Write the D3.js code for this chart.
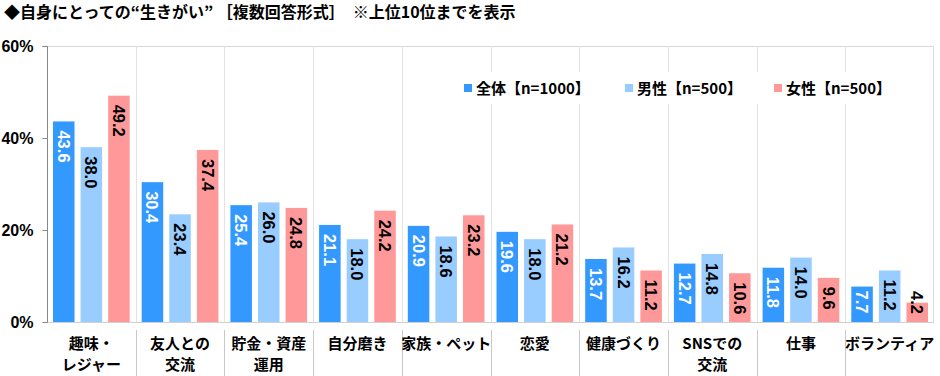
<!DOCTYPE html>
<html><head><meta charset="utf-8">
<script src="https://cdn.jsdelivr.net/npm/d3@7/dist/d3.min.js"></script>
<style>
body{margin:0;background:#fff;}
svg{display:block;}
</style></head>
<body><svg id="c" width="940" height="376"></svg>
<script>
const categories = [["趣味・","レジャー"],["友人との","交流"],["貯金・資産","運用"],["自分磨き"],["家族・ペット"],["恋愛"],["健康づくり"],["SNSでの","交流"],["仕事"],["ボランティア"]];
const seriesNames = ["全体【n=1000】","男性【n=500】","女性【n=500】"];
const totalVals = [43.6,30.4,25.4,21.1,20.9,19.6,13.7,12.7,11.8,7.7];
const maleVals = [38.0,23.4,26.0,18.0,18.6,18.0,16.2,14.8,14.0,11.2];
const femaleVals = [49.2,37.4,24.8,24.2,23.2,21.2,11.2,10.6,9.6,4.2];
const yTicks = [0,20,40,60];
const titleText = "◆自身にとっての“生きがい” ［複数回答形式］　※上位10位までを表示";

const colors = ["#3399FF","#99CCFF","#FF9999"];
const labelColors = ["#fff","#000","#000"];
const values = [totalVals, maleVals, femaleVals];

const svg = d3.select("#c");
const L = 47, R = 934, T = 46, B = 322;
const catIdx = categories.map((d,i)=>i);
const x = d3.scaleBand().domain(catIdx).range([L,R]).paddingInner(0).paddingOuter(0);
const bw = x.bandwidth();
const x1 = d3.scaleBand().domain([0,1,2]).range([6, bw-6]).paddingInner(0.22).paddingOuter(0);
const y = d3.scaleLinear().domain([0,60]).range([B,T]);

svg.append("text").attr("x",4).attr("y",18)
  .attr("font-family","'Noto Sans CJK JP'").attr("font-weight","bold").attr("font-size",16)
  .attr("fill","#000").text(titleText);

const g = svg.append("g");
g.append("line").attr("x1",L).attr("x2",R).attr("y1",T+0.5).attr("y2",T+0.5).attr("stroke","#d9d9d9");
g.append("line").attr("x1",R-0.5).attr("x2",R-0.5).attr("y1",T).attr("y2",B).attr("stroke","#d9d9d9");
g.selectAll(".vg").data(catIdx.slice(1)).enter().append("line")
  .attr("x1",d=>Math.round(x(d))+0.5).attr("x2",d=>Math.round(x(d))+0.5)
  .attr("y1",T).attr("y2",B).attr("stroke","#e3e3e3");
g.selectAll(".sep").data(catIdx.slice(1)).enter().append("line")
  .attr("x1",d=>Math.round(x(d))+0.5).attr("x2",d=>Math.round(x(d))+0.5)
  .attr("y1",330).attr("y2",376).attr("stroke","#c8c8c8");

const bars = svg.append("g");
values.forEach((vals,s)=>{
  bars.selectAll(".b"+s).data(vals).enter().append("rect")
    .attr("x",(d,i)=>x(i)+x1(s)).attr("width",x1.bandwidth())
    .attr("y",d=>y(d)).attr("height",d=>B-y(d)).attr("fill",colors[s]);
});

svg.append("line").attr("x1",L).attr("x2",R).attr("y1",B+0.5).attr("y2",B+0.5).attr("stroke","#d0d0d0");

const ax = svg.append("g").attr("transform",`translate(${L+0.5},0)`)
  .call(d3.axisLeft(y).tickValues(yTicks).tickSize(5).tickPadding(9).tickFormat(d=>d+"%"));
ax.select(".domain").attr("stroke","#888").attr("d",`M-5,${T+0.5}H0V${B+0.5}`);
ax.selectAll(".tick line").attr("stroke","#888");
ax.selectAll(".tick text").attr("font-family","'Liberation Sans',Arial").attr("font-weight","bold").attr("font-size",16).attr("fill","#000");

const lab = svg.append("g");
values.forEach((vals,s)=>{
  vals.forEach((v,i)=>{
    const txt = v.toFixed(1);
    const cx = x(i)+x1(s)+x1.bandwidth()/2;
    const fs = 16.5;
    const len = txt.length===4 ? 32 : 23;
    let y0 = y(v)+9;
    if (y0+len > B-6) y0 = Math.min(y(v)+4, B-8-len);
    lab.append("text")
      .attr("transform",`translate(${cx-6},${y0}) rotate(90)`)
      .attr("font-family","'Liberation Sans',Arial").attr("font-weight","bold").attr("font-size",fs)
      .attr("fill",labelColors[s]).attr("text-anchor","start")
      .text(txt);
  });
});

const cl = svg.append("g");
categories.forEach((lines,i)=>{
  const t = cl.append("text").attr("text-anchor","middle")
    .attr("font-family","'Noto Sans CJK JP'").attr("font-weight","bold").attr("font-size",15).attr("fill","#000");
  lines.forEach((ln,k)=>{
    t.append("tspan").attr("x",x(i)+bw/2).attr("y",349+k*21).text(ln);
  });
});

const lg = svg.append("g");
lg.append("rect").attr("x",456).attr("y",72).attr("width",444).attr("height",32).attr("fill","#fff");
const lx = [464,625,774];
seriesNames.forEach((n,s)=>{
  lg.append("rect").attr("x",lx[s]).attr("y",84).attr("width",8).attr("height",8).attr("fill",colors[s]);
  lg.append("text").attr("x",lx[s]+12).attr("y",94)
    .attr("font-family","'Noto Sans CJK JP'").attr("font-weight","bold").attr("font-size",15).attr("fill","#000").text(n);
});
</script></body></html>
